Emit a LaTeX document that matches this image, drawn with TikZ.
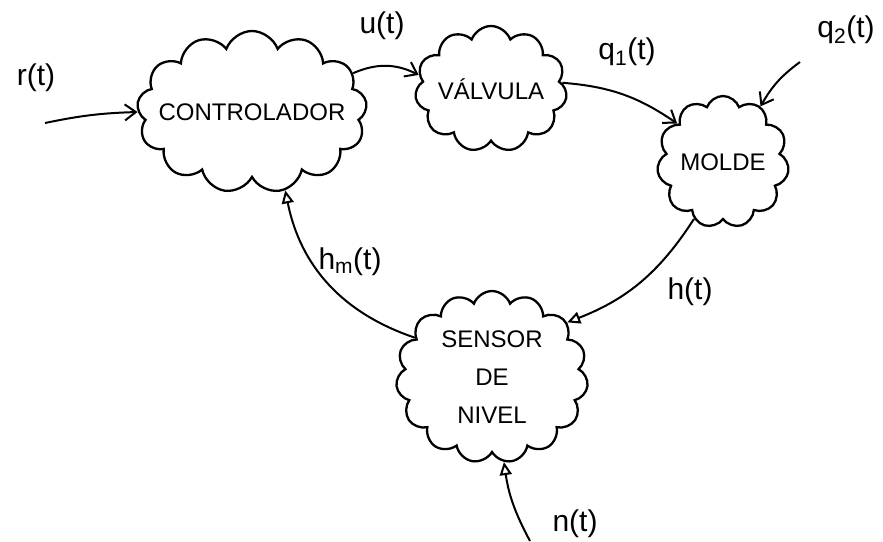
\documentclass[tikz,border=0pt]{standalone}
\usepackage{fontspec}
\setmainfont{Liberation Sans}
\usetikzlibrary{shapes.symbols,arrows.meta}
\begin{document}
\begin{tikzpicture}[x=1pt,y=-1pt,
  blob/.style={cloud, draw, line width=2.3pt, cloud ignores aspect, cloud puffs=13, cloud puff arc=140, align=center, inner sep=0pt},
  sig/.style={line width=2pt, -{Straight Barb[length=11pt,width=16pt]}},
  sigo/.style={line width=2pt, -{Triangle[open,length=13pt,width=12pt]}},
  lbl/.style={font=\fontsize{30}{34}\selectfont},
  btxt/.style={font=\fontsize{24}{38}\selectfont}]
\path[use as bounding box] (0,0) rectangle (883,541);
\node[blob, btxt, inner xsep=-18pt, minimum width=230pt, minimum height=162pt] (ctrl) at (252,112) {CONTROLADOR};
\node[blob, btxt, cloud puffs=11, minimum width=152pt, minimum height=126pt] (valv) at (491,89) {VÁLVULA};
\node[blob, btxt, cloud puffs=11, minimum width=132pt, minimum height=132pt] (molde) at (723,162) {MOLDE};
\node[blob, btxt, cloud puffs=15, minimum width=192pt, minimum height=172pt] (sens) at (492,377) {SENSOR\\DE\\NIVEL};
\coordinate (rin) at (45,123);
\coordinate (q2in) at (800,62);
\coordinate (nin) at (530,541);
\draw[sig] (rin) to[bend left=5] (ctrl.west);
\draw[sig] (ctrl.21) to[bend left=25] (valv.169);
\draw[sig] (valv.5) to[bend left=15] (molde.140);
\draw[sig] (q2in) to[bend right=12] (molde.56);
\draw[sigo] (molde.243) to[bend left=18] (sens.36);
\draw[sigo] (sens.153) to[bend left=30] (ctrl.293);
\draw[sigo] (nin) to[bend left=10] (sens.278);
\node[lbl] (lr) at (36,78) {r(t)};
\node[lbl] (lu) at (382,26) {u(t)};
\node[lbl] (lq1) at (627,52) {q\textsubscript{1}(t)};
\node[lbl] (lq2) at (846,30) {q\textsubscript{2}(t)};
\node[lbl] (lh) at (690,292) {h(t)};
\node[lbl] (lhm) at (350,262) {h\textsubscript{m}(t)};
\node[lbl] (ln) at (575,524) {n(t)};
\end{tikzpicture}
\end{document}
